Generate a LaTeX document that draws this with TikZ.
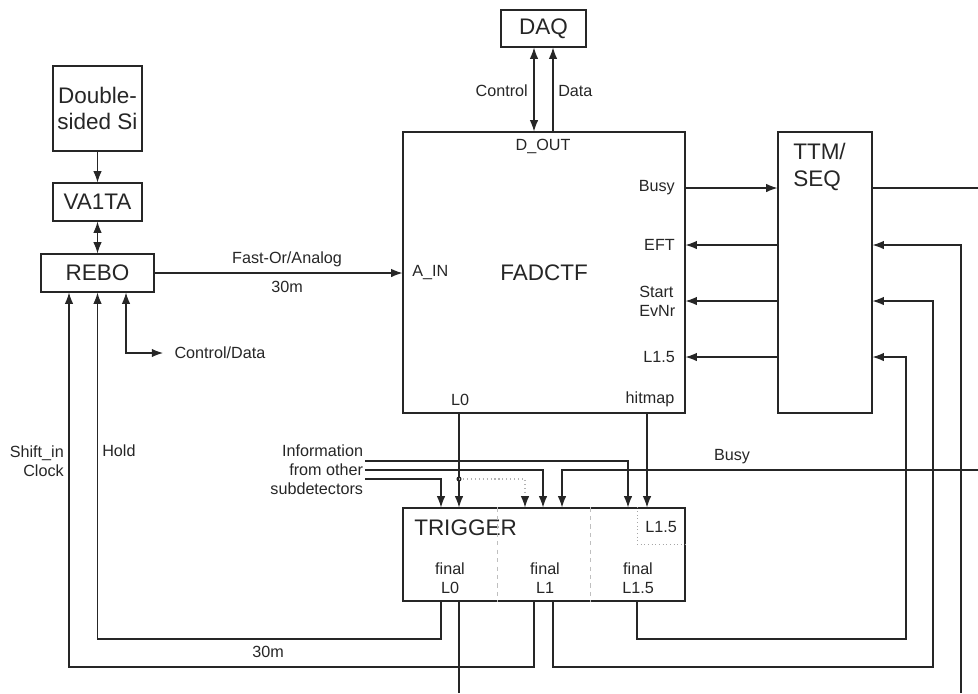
\documentclass[tikz,border=0pt]{standalone}
\usepackage{fontspec}
\setmainfont{Liberation Sans}
\usetikzlibrary{arrows.meta,fit}
\begin{document}
\begin{tikzpicture}[x=0.025cm,y=-0.025cm,line width=0.8pt,
every node/.style={text=black!85,font=\fontsize{11.5}{13.5}\selectfont},
big/.style={font=\fontsize{16}{19}\selectfont},
box/.style={draw=black!85,inner sep=0pt},
boxtext/.style={label={[big,align=center]center:#1}},
wire/.style={draw=black!85},
arr/.style={wire,-{Latex[length=8pt,width=6pt]}},
dblarr/.style={wire,{Latex[length=8pt,width=6pt]}-{Latex[length=8pt,width=6pt]}}]

\useasboundingbox (0,0) rectangle (978,693);

\node[box,fit={(53,66) (142,151)},boxtext={Double-\\sided Si}] (si) {};
\node[box,fit={(53,183) (142,221)},boxtext=VA1TA] (va) {};
\node[box,fit={(41,254) (154,292)},boxtext=REBO] (rebo) {};
\node[box,fit={(501,10) (586,47)},boxtext=DAQ] (daq) {};
\node[box,fit={(403,132) (685,413)},boxtext=FADCTF] (fadc) {};
\node[box,fit={(778,132) (872,413)}] (ttm) {};
\node[box,fit={(403,508) (685,601)}] (trig) {};

\node[big,anchor=west,align=left] (ttmlab) at (788,167) {TTM/\\SEQ};
\node[big,anchor=west] (triglab) at (409,528) {TRIGGER};

\node (dout) at (543,146) {D\_OUT};
\node[anchor=west] (ain) at (407,273) {A\_IN};
\node (l0lab) at (460,400) {L0};
\node (hitlab) at (650,399) {hitmap};
\node[anchor=east] (busylab) at (680,188) {Busy};
\node[anchor=east] (eftlab) at (680,245) {EFT};
\node[anchor=west,align=left] (startlab) at (634,301) {Start\\EvNr};
\node[anchor=east] (l15lab) at (680,357) {L1.5};

\node[anchor=east] (ctrllab) at (533,91) {Control};
\node[anchor=west] (datalab) at (553,91) {Data};
\node (fastlab) at (287,259) {Fast-Or/Analog};
\node (lenlab) at (287,287) {30m};
\node[anchor=west,inner xsep=7.8pt] (ctrldata) at (163,353) {Control/Data};
\node[anchor=east,align=right] (clklab) at (69,461) {Shift\_in\\Clock};
\node[anchor=west] (holdlab) at (97,451) {Hold};
\node (len2lab) at (268,652) {30m};
\node[anchor=east,align=right,inner sep=1pt] (info) at (365,470) {Information\\from other\\subdetectors};
\node (busy2lab) at (732,457) {Busy};

\node[align=center] (f0) at (450,578) {final\\L0};
\node[align=center] (f1) at (545,578) {final\\L1};
\node[align=center] (f15) at (638,578) {final\\L1.5};
\node (l15in) at (661,527) {L1.5};

\draw[dashed,gray!50,line width=0.5pt] (trig.north -| 497,0) -- (trig.south -| 497,0);
\draw[dashed,gray!50,line width=0.5pt] (trig.north -| 590,0) -- (trig.south -| 590,0);
\draw[dotted,gray!70,line width=0.6pt] (trig.north -| 637,0) |- (trig.east |- 0,544);

\draw[arr] (si) -- (va);
\draw[dblarr] (va) -- (rebo);
\draw[arr] (rebo.east) -- (fadc.west |- rebo.east);
\draw[dblarr] (rebo.south -| 126,0) |- (ctrldata.west);
\draw[arr] (trig.south -| 441,0) |- (97.5,639) -- (rebo.south);
\draw[arr] (trig.south -| 534,0) |- (69,667) -- (rebo.south -| 69,0);

\draw[dblarr] (fadc.north -| 534,0) -- (daq.south -| 534,0);
\draw[arr] (fadc.north -| 553,0) -- (daq.south -| 553,0);

\draw[arr] (fadc.east |- 0,188) -- (ttm.west |- 0,188);
\draw[arr] (ttm.west |- 0,245) -- (fadc.east |- 0,245);
\draw[arr] (ttm.west |- 0,301) -- (fadc.east |- 0,301);
\draw[arr] (ttm.west |- 0,357) -- (fadc.east |- 0,357);

\coordinate (ttmout) at (978,188);
\coordinate (eftsrc) at (961,693);
\coordinate (busysrc) at (978,470);
\coordinate (l0down) at (459,693);
\coordinate (l0split) at (459,479);

\draw[wire] (ttm.east |- 0,188) -- (ttmout);
\draw[arr] (eftsrc) |- (ttm.east |- 0,245);
\draw[arr] (trig.south -| 553,0) |- (933,667) |- (ttm.east |- 0,301);
\draw[arr] (trig.south -| 637,0) |- (906,639) |- (ttm.east |- 0,357);
\draw[wire] (trig.south -| 459,0) -- (l0down);

\draw[arr] (fadc.south -| 459,0) -- (trig.north -| 459,0);
\fill[black!85] (l0split) circle (1.8pt);
\draw[dotted,gray!60,-{Latex[length=8pt,width=6pt,color=black!85]}] (l0split) -| (trig.north -| 525,0);
\draw[arr] (fadc.south -| 647,0) -- (trig.north -| 647,0);
\draw[arr] (info.east |- 0,461) -| (trig.north -| 628,0);
\draw[arr] (info.east) -| (trig.north -| 543,0);
\draw[arr] (info.east |- 0,479) -| (trig.north -| 441,0);
\draw[arr] (busysrc) -| (trig.north -| 562,0);

\end{tikzpicture}
\end{document}
